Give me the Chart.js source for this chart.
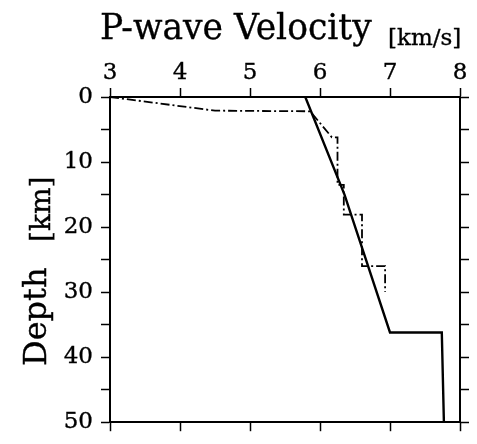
<!DOCTYPE html>
<html>
<head>
<meta charset="utf-8">
<script src="https://cdn.jsdelivr.net/npm/chart.js@4/dist/chart.umd.min.js"></script>
<style>
  html, body { margin: 0; padding: 0; background: #fff; }
  #wrap { position: relative; width: 477px; height: 444px; overflow: hidden; }
  canvas { position: absolute; left: 0; top: 0; }
  .t { position: absolute; font-family: 'DejaVu Serif', serif; color: #000; line-height: 1; white-space: nowrap; -webkit-text-stroke: 0.35px #000; }
  #ylab { position: absolute; left: 0; top: 0; width: 444px; height: 60px; transform-origin: 0 0; transform: translate(0px, 444px) rotate(-90deg); }
</style>
</head>
<body>
<div id="wrap">
  <canvas id="c" width="477" height="444"></canvas>
  <span class="t" style="left:100px; top:10px; font-size:34.5px;">P-wave Velocity</span>
  <span class="t" style="left:388px; top:26px; font-size:23px;">[km/s]</span>
  <div id="ylab">
    <span class="t" style="left:78px; top:19px; font-size:32px;">Depth</span>
    <span class="t" style="left:202px; top:27px; font-size:28px;">[km]</span>
  </div>
</div>
<script>
// Velocity axis ticks (km/s) and depth axis ticks (km)
const velTicks = [3, 4, 5, 6, 7, 8];
const depthTicks = [0, 10, 20, 30, 40, 50];

// Solid model
const solidVel   = [5.79, 6.35, 7.00, 7.74, 7.77];
const solidDepth = [0,    15.0, 36.2, 36.2, 50.0];

// Dash-dot model
const dashVel   = [3.00, 4.50, 5.86, 6.17, 6.25, 6.25, 6.34, 6.34, 6.60, 6.60, 6.93, 6.93];
const dashDepth = [0,    2.1,  2.2,  6.2,  6.2,  13.5, 13.5, 18.1, 18.1, 26.0, 26.0, 30.0];

const toPts = (xs, ys) => xs.map((v, i) => ({ x: v, y: ys[i] }));

const tickFont = { family: "'DejaVu Serif', serif", size: 23 };
const axisBase = {
  grid: { drawOnChartArea: false, drawTicks: true, color: '#000', tickColor: '#000', tickWidth: 1.5, tickLength: 9 },
  border: { display: true, color: '#000', width: 2 }
};

new Chart(document.getElementById('c'), {
  type: 'scatter',
  data: {
    datasets: [
      { data: toPts(solidVel, solidDepth), showLine: true, borderColor: '#000', borderWidth: 2.4, pointRadius: 0, tension: 0, xAxisID: 'x', yAxisID: 'y' },
      { data: toPts(dashVel, dashDepth), showLine: true, borderColor: '#000', borderWidth: 1.8, borderDash: [9, 3, 2, 3], pointRadius: 0, tension: 0, xAxisID: 'x', yAxisID: 'y' }
    ]
  },
  options: {
    responsive: false,
    devicePixelRatio: 1,
    animation: false,
    events: [],
    layout: { padding: 0 },
    plugins: { legend: { display: false }, tooltip: { enabled: false }, title: { display: false } },
    scales: {
      x: {
        ...axisBase, type: 'linear', position: 'top',
        min: velTicks[0], max: velTicks[velTicks.length - 1],
        afterBuildTicks: s => { s.ticks = velTicks.map(v => ({ value: v })); },
        ticks: { font: tickFont, color: '#000', textStrokeColor: '#000', textStrokeWidth: 0.35, padding: 1, maxRotation: 0, callback: v => String(v) },
        afterFit: s => { s.height = 97; }
      },
      x2: {
        ...axisBase, type: 'linear', position: 'bottom',
        min: velTicks[0], max: velTicks[velTicks.length - 1],
        afterBuildTicks: s => { s.ticks = velTicks.map(v => ({ value: v })); },
        ticks: { display: false },
        afterFit: s => { s.height = 12; }
      },
      y: {
        ...axisBase, type: 'linear', position: 'left', reverse: true,
        min: 0, max: 50,
        ticks: { stepSize: 5, font: tickFont, color: '#000', textStrokeColor: '#000', textStrokeWidth: 0.35, padding: 8,
          callback: v => depthTicks.includes(v) ? String(v) : '' },
        afterFit: s => { s.width = 110; }
      },
      y2: {
        ...axisBase, type: 'linear', position: 'right', reverse: true,
        min: 0, max: 50,
        ticks: { stepSize: 5, display: false },
        afterFit: s => { s.width = 17; }
      }
    }
  }
});
</script>
</body>
</html>
